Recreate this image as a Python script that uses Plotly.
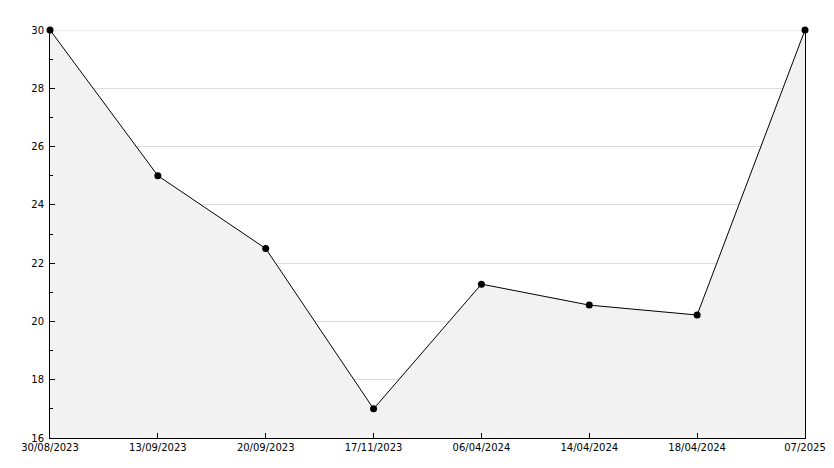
import plotly.graph_objects as go

dates = ["30/08/2023", "13/09/2023", "20/09/2023", "17/11/2023",
         "06/04/2024", "14/04/2024", "18/04/2024", "07/2025"]
values = [30, 25, 22.5, 17, 21.28, 20.56, 20.22, 30]

fig = go.Figure()
fig.add_trace(go.Scatter(
    x=dates, y=values, mode="lines+markers",
    line=dict(color="black", width=1),
    marker=dict(color="black", size=7, symbol="circle"),
    fill="tozeroy", fillcolor="#f2f2f2",
    cliponaxis=False,
))

font = dict(family="DejaVu Sans", size=10, color="black")
fig.update_layout(
    width=834, height=468,
    margin=dict(l=50, r=29, t=30, b=30, autoexpand=False),
    paper_bgcolor="white", plot_bgcolor="white",
    showlegend=False, font=font,
)
# top gridline at the range edge
fig.add_shape(type="line", xref="paper", yref="y", x0=0, x1=1, y0=30, y1=30,
              line=dict(color="#dcdcdc", width=1), layer="below")
fig.update_xaxes(
    type="category", range=[0, len(dates) - 1], automargin=False,
    showline=True, linecolor="black", linewidth=1,
    ticks="inside", ticklen=5, tickcolor="black",
    showgrid=False, zeroline=False, tickfont=font,
)
fig.update_yaxes(
    range=[16, 30], dtick=2, tick0=16, automargin=False,
    showline=True, linecolor="black", linewidth=1, mirror=True,
    ticks="inside", ticklen=5, tickcolor="black",
    showgrid=True, gridcolor="#dcdcdc", gridwidth=1,
    zeroline=False, tickfont=font, ticklabelstandoff=3,
    minor=dict(ticks="inside", ticklen=3, dtick=1, tick0=16, tickcolor="black", showgrid=False),
)
fig.write_html("out.html", config={"displayModeBar": False},
               post_script="document.body.style.margin='0';document.body.style.overflow='hidden';")
